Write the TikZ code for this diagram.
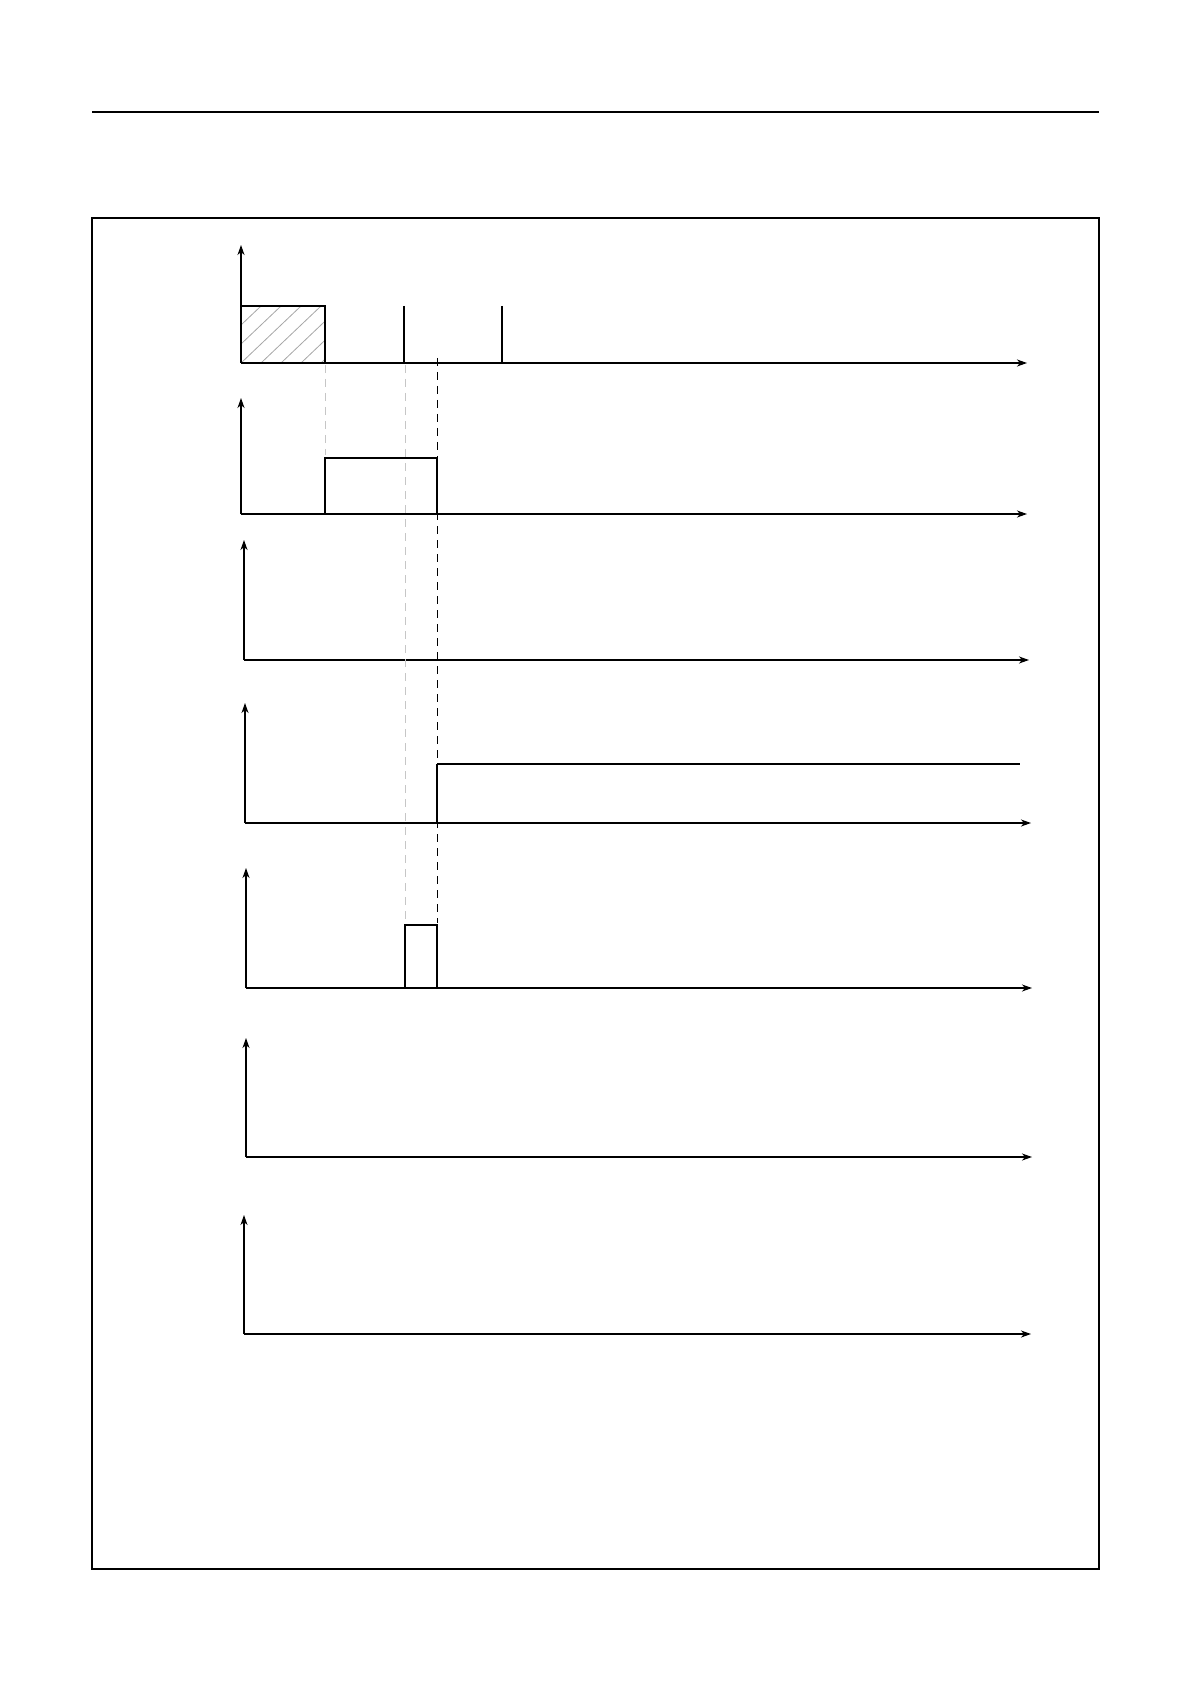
\documentclass[tikz,border=0pt]{standalone}
\usetikzlibrary{arrows.meta,patterns}
\begin{document}
\begin{tikzpicture}[x=0.5pt,y=-0.5pt,
  axis/.style={line width=0.6pt,-{Stealth[length=5pt,width=3.5pt,inset=1.5pt]}},
  sig/.style={line width=1.3pt},
  frame/.style={line width=1.2pt},
  guide/.style={dashed,line width=0.5pt,dash pattern=on 4pt off 3pt},
  gguide/.style={guide,gray!45},
  hatch/.style={gray!70,line width=0.4pt}]
\useasboundingbox (0,0) rectangle (1191,1684);
% header rule and frame
\draw[frame] (92,112) -- (1099,112);
\draw[frame] (92,218) rectangle (1099,1569);
% panel origins
\foreach \n/\x/\t/\b/\e in {1/241/245/363/1027,2/241/398/514/1027,3/244/540/660/1029,4/245/703/823/1031,5/246/868/988/1032,6/246/1038/1157/1032,7/244/1215/1334/1031}{
  \coordinate (o\n) at (\x,\b);
  \coordinate (t\n) at (\x,\t);
  \coordinate (e\n) at (\e,\b);
}
% hatched box in panel 1
\coordinate (ba) at (241,306);
\coordinate (bb) at (325,363);
\begin{scope}
\clip (ba) rectangle (bb);
\foreach \k in {-60,-40,...,160}{
  \draw[hatch] (241+\k,363) -- (241+\k+60,306);
}
\end{scope}
\draw[line width=0.7pt] (o1) -- (ba) -- (325,306) -- (bb);
\draw[line width=0.6pt] (404,306) -- (404,363);
\draw[line width=0.6pt] (502,306) -- (502,363);
% axes
\foreach \n in {1,...,7}{
  \draw[axis] (o\n) -- (t\n);
  \draw[axis] (o\n) -- (e\n);
}
% panel 2 pulse
\draw[sig] (325,514) -- (325,458) -- (437,458) -- (437,514);
% panel 4 step
\draw[sig] (437,823) -- (437,764);
\draw[line width=0.7pt] (437,764) -- (1020,764);
% panel 5 pulse
\draw[sig] (405,988) -- (405,925) -- (437,925) -- (437,988);
% guides
\draw[gguide] (325,365) -- (325,455);
\draw[gguide] (405,365) -- (405,923);
\draw[guide] (437,358) -- (437,923);
\end{tikzpicture}
\end{document}
